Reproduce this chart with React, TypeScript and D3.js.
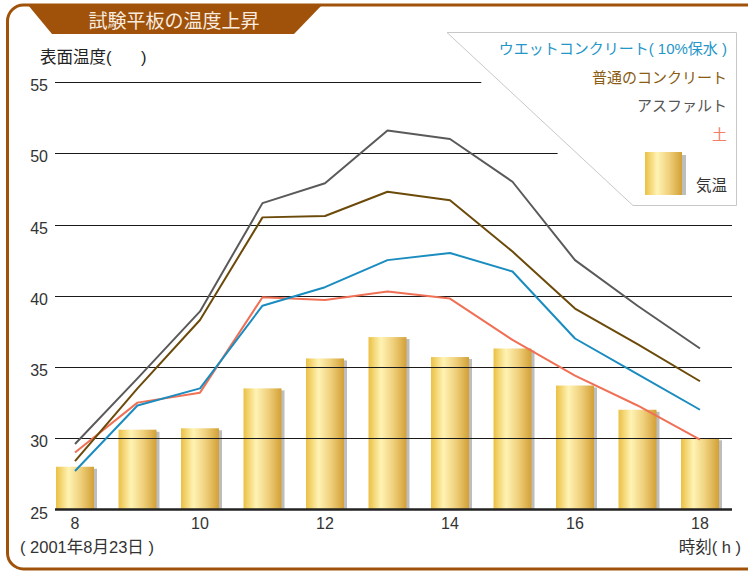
import React from "react";
import * as d3 from "d3";

const hours = [8, 9, 10, 11, 12, 13, 14, 15, 16, 17, 18];
const airTemp = [28.0, 30.6, 30.7, 33.5, 35.6, 37.1, 35.7, 36.3, 33.7, 32.0, 30.0];
const asphalt = [29.6, 34.2, 38.9, 46.5, 47.9, 51.6, 51.0, 48.0, 42.5, 39.3, 36.3];
const concrete = [28.4, 33.5, 38.3, 45.5, 45.6, 47.3, 46.7, 43.1, 39.1, 36.6, 34.0];
const wetConcrete = [27.7, 32.3, 33.5, 39.3, 40.6, 42.5, 43.0, 41.7, 37.0, 34.5, 32.0];
const soil = [29.0, 32.5, 33.2, 39.9, 39.7, 40.3, 39.8, 36.9, 34.4, 32.3, 29.9];
const yTicks = [25, 30, 35, 40, 45, 50, 55];
const xTicks = [8, 10, 12, 14, 16, 18];

const title = "試験平板の温度上昇";
const legendItems = [
  { label: "ウエットコンクリート( 10%保水 )", color: "#2596c8" },
  { label: "普通のコンクリート", color: "#8a5c14" },
  { label: "アスファルト", color: "#555555" },
  { label: "土", color: "#f47c6a" },
];

const FONT = "'Liberation Sans', 'Noto Sans CJK JP', Arial, sans-serif";

export default function App() {
  const x = d3.scaleLinear().domain([8, 18]).range([75, 700]);
  const y = d3.scaleLinear().domain([25, 55]).range([509.5, 82]);
  const barW = 38;

  const line = d3
    .line<number>()
    .x((_, i) => x(hours[i]))
    .y((d) => y(d));

  const series = [
    { data: soil, color: "#f07055" },
    { data: wetConcrete, color: "#1a8cbf" },
    { data: concrete, color: "#6b4a0a" },
    { data: asphalt, color: "#5a5a5a" },
  ];

  const lgTop = 32;
  const lgLeft = 447;
  const lgRight = 736;
  const lgBottom = 205;
  const slope = 1.075;
  const diagX = (yy: number) => lgLeft + (yy - lgTop) * slope;
  const crisp = (v: number) => Math.round(v) + 0.5;

  return (
    <svg
      width={748}
      height={572}
      style={{ position: "absolute", left: 0, top: 0, background: "#fff" }}
      fontFamily={FONT}
    >
      <defs>
        <linearGradient id="barGrad" x1="0" x2="1" y1="0" y2="0">
          <stop offset="0%" stopColor="#ebc044" />
          <stop offset="33%" stopColor="#fff3b4" />
          <stop offset="65%" stopColor="#efd07c" />
          <stop offset="100%" stopColor="#d3a036" />
        </linearGradient>
      </defs>

      <rect x={7.5} y={5} width={800} height={564} rx={16} ry={16} fill="none" stroke="#a0520a" strokeWidth={3} />
      <polygon points="28,5 322,5 294,34 52,34" fill="#a0520a" />
      <text x={174} y={28} textAnchor="middle" fill="#f8ece0" fontSize={19}>
        {title}
      </text>

      <polygon
        points={`${lgLeft},${lgTop + 0.5} ${lgRight + 0.5},${lgTop + 0.5} ${lgRight + 0.5},${lgBottom + 0.5} ${diagX(lgBottom)},${lgBottom + 0.5}`}
        fill="#fff"
        stroke="#c8c8c8"
        strokeWidth={1}
      />
      {legendItems.map((it, i) => (
        <text key={i} x={727} y={54 + i * 28.5} textAnchor="end" fill={it.color} fontSize={15}>
          {it.label}
        </text>
      ))}
      <rect x={682} y={155} width={4} height={40} fill="#bdbdbd" />
      <rect x={645} y={152} width={37} height={43} fill="url(#barGrad)" />
      <text x={727} y={191} textAnchor="end" fill="#333" fontSize={15.5}>
        気温
      </text>

      <text x={40} y={63} fill="#222" fontSize={16.5}>
        表面温度(
      </text>
      <text x={141} y={63} fill="#222" fontSize={16.5}>
        )
      </text>

      {airTemp.map((v, i) => (
        <g key={i}>
          <rect x={x(hours[i]) + barW / 2 - 1} y={y(v) + 2} width={4} height={y(25) - y(v) - 2} fill="#bdbdbd" />
          <rect x={x(hours[i]) - barW / 2} y={y(v)} width={barW} height={y(25) - y(v)} fill="url(#barGrad)" />
        </g>
      ))}

      {yTicks
        .filter((t) => t > 25)
        .map((t) => {
          const yy = crisp(y(t));
          const x2 = yy < lgBottom + 1 ? diagX(yy) - 20 : 732;
          return <line key={t} x1={55} x2={x2} y1={yy} y2={yy} stroke="#1a1a1a" strokeWidth={1} />;
        })}
      <line x1={55} x2={732} y1={y(25)} y2={y(25)} stroke="#222" strokeWidth={2.5} />

      {yTicks.map((t) => (
        <text key={t} x={48} y={y(t) + 9} textAnchor="end" fill="#333" fontSize={16}>
          {t}
        </text>
      ))}
      {xTicks.map((t) => (
        <text key={t} x={x(t)} y={528.5} textAnchor="middle" fill="#333" fontSize={16}>
          {t}
        </text>
      ))}
      <text x={20} y={553} fill="#333" fontSize={16.5} style={{ whiteSpace: "pre" }}>
        {"( 2001年8月23日 )"}
      </text>
      <text x={741} y={553} textAnchor="end" fill="#333" fontSize={16.5} style={{ whiteSpace: "pre" }}>
        {"時刻( h )"}
      </text>

      {series.map((s, i) => (
        <path key={i} d={line(s.data) || ""} fill="none" stroke={s.color} strokeWidth={2} strokeLinejoin="round" />
      ))}
    </svg>
  );
}
